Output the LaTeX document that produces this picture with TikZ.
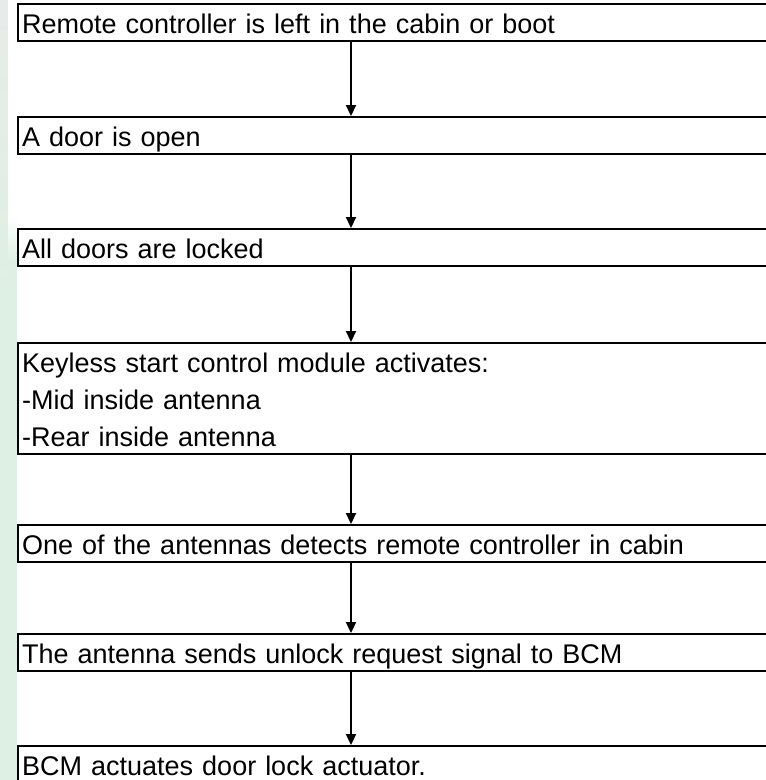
\documentclass[tikz,border=0pt]{standalone}
\usepackage{fontspec}
\setmainfont{Liberation Sans}
\usetikzlibrary{arrows.meta}

\definecolor{stripgreen}{RGB}{222,240,227}
\definecolor{stripgrey}{RGB}{232,235,233}
\newcommand{\boxstrut}{\rule[-8pt]{0pt}{37pt}}

\begin{document}
\begin{tikzpicture}[x=1pt,y=1pt,
        stepbox/.style={draw,line width=2.4pt,anchor=north west,
            text width=762pt,inner xsep=4pt,inner ysep=0pt,align=left,
            font=\fontsize{27}{37}\selectfont},
        flow/.style={line width=2.2pt,-{Triangle[length=11pt,width=10pt]}}
    ]

    \useasboundingbox (0,0) rectangle (766,-780);
    \clip (0,0) rectangle (766,-780);

    % background strip on the left
    \fill[stripgreen] (0,0) rectangle (17,-780);
    \shade[top color=stripgrey,bottom color=stripgreen] (0,0) rectangle (8,-300);
    \fill[white] (8,0) rectangle (17,-215);
    \shade[top color=white,bottom color=stripgreen] (8,-215) rectangle (17,-260);

    % spine for the arrows
    \coordinate (spine) at (351,0);

    % remote left inside
    \node[stepbox] (left) at (17,-3) {\boxstrut Remote controller is left in the cabin or boot};

    % door open
    \node[stepbox] (open) at (17,-116) {\boxstrut A door is open};

    % doors locked
    \node[stepbox] (locked) at (17,-228) {\boxstrut All doors are locked};

    % antennas activated
    \node[stepbox] (activate) at (17,-342) {\boxstrut Keyless start control module activates:\\
        \boxstrut -Mid inside antenna\\
        \boxstrut -Rear inside antenna};

    % remote detected
    \node[stepbox] (detect) at (17,-524) {\boxstrut One of the antennas detects remote controller in cabin};

    % unlock request
    \node[stepbox] (request) at (17,-633) {\boxstrut The antenna sends unlock request signal to BCM};

    % actuator
    \node[stepbox] (actuate) at (17,-745) {\boxstrut BCM actuates door lock actuator.};

    \draw[flow] (left.south -| spine) -- (open.north -| spine);
    \draw[flow] (open.south -| spine) -- (locked.north -| spine);
    \draw[flow] (locked.south -| spine) -- (activate.north -| spine);
    \draw[flow] (activate.south -| spine) -- (detect.north -| spine);
    \draw[flow] (detect.south -| spine) -- (request.north -| spine);
    \draw[flow] (request.south -| spine) -- (actuate.north -| spine);

\end{tikzpicture}
\end{document}
